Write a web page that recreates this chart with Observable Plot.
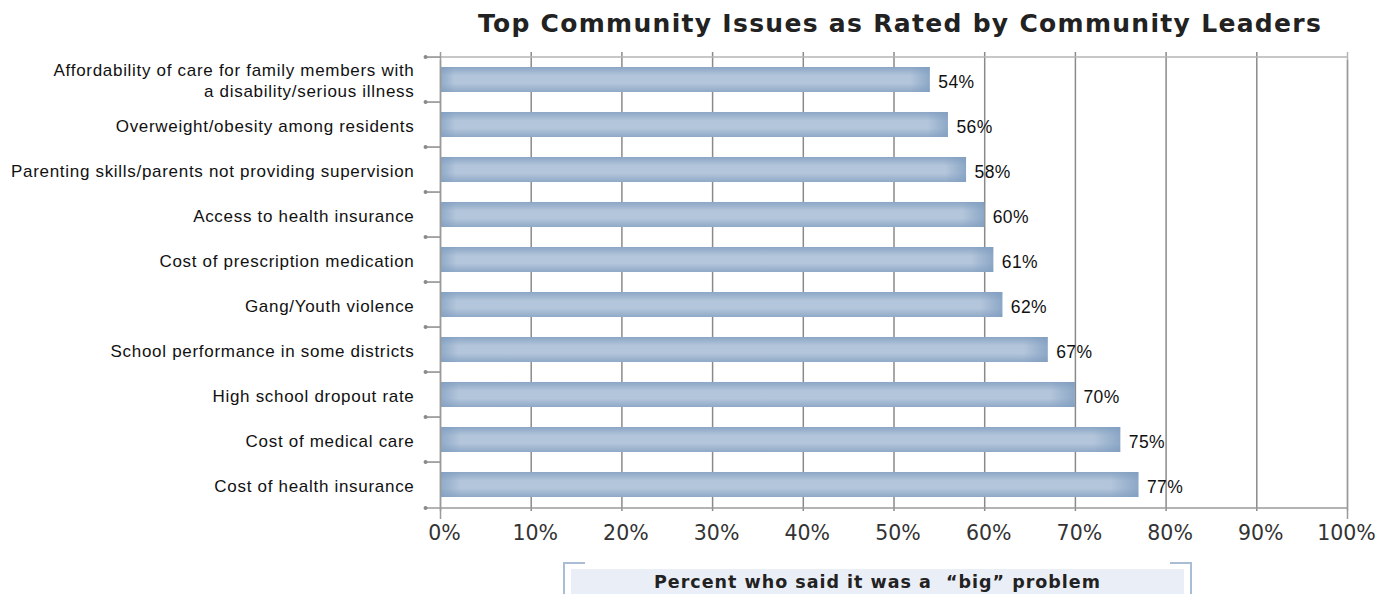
<!DOCTYPE html>
<html>
<head>
<meta charset="utf-8">
<script src="https://cdn.jsdelivr.net/npm/d3@7"></script>
<script src="https://cdn.jsdelivr.net/npm/@observablehq/plot@0.6"></script>
<style>
  body { margin: 0; background: #fff; width: 1379px; height: 594px; overflow: hidden; position: relative; font-family: "Liberation Sans", Arial, sans-serif; }
  #title { position: absolute; top: 9px; left: 421px; width: 958px; text-align: center; font-family: "DejaVu Sans", sans-serif; font-weight: bold; font-size: 25px; color: #222; letter-spacing: 1.3px; }
  #chart { position: absolute; top: 40px; left: 0; }
  #caption { position: absolute; top: 569px; left: 571px; width: 613px; height: 30px; background: #eaeef6; text-align: center; font-family: "DejaVu Sans", sans-serif; font-weight: bold; font-size: 17.5px; color: #222; line-height: 26px; letter-spacing: 1px; }
  .br { position: absolute; border-color: #a9bdd5; border-style: solid; }
  #brl { top: 562px; left: 563px; width: 20px; height: 40px; border-width: 2px 0 0 2px; }
  #brr { top: 562px; left: 1170px; width: 20px; height: 40px; border-width: 2px 2px 0 0; }
  #chart g[aria-label="y-axis tick label"] text { letter-spacing: 0.7px; }
  #chart g[aria-label="text"] text { letter-spacing: 0.4px; }
</style>
</head>
<body>
<div id="title">Top Community Issues as Rated by Community Leaders</div>
<div id="chart"></div>
<div class="br" id="brl"></div>
<div class="br" id="brr"></div>
<div id="caption">Percent who said it was a &nbsp;“big” problem</div>
<script>
const categories = [
  "Affordability of care for family members with\na disability/serious illness",
  "Overweight/obesity among residents",
  "Parenting skills/parents not providing supervision",
  "Access to health insurance",
  "Cost of prescription medication",
  "Gang/Youth violence",
  "School performance in some districts",
  "High school dropout rate",
  "Cost of medical care",
  "Cost of health insurance"
];
const values = [54, 56, 58, 60, 61, 62, 67, 70, 75, 77];
const xTicks = [0, 10, 20, 30, 40, 50, 60, 70, 80, 90, 100];

const data = categories.map((c, i) => ({cat: c, v: values[i] / 100}));

const W = 1379, H = 512, mt = 12, mb = 41, ml = 440, mr = 32;
const pInner = 0.45, pOuter = 0.225;
const step = (H - mt - mb) / (categories.length - pInner + 2 * pOuter);

const plot = Plot.plot({
  width: W, height: H,
  marginTop: mt, marginBottom: mb, marginLeft: ml, marginRight: mr,
  style: {background: "transparent", overflow: "visible"},
  x: {domain: [0, 1]},
  y: {domain: categories, paddingInner: pInner, paddingOuter: pOuter},
  marks: [
    // vertical grid
    Plot.ruleX(xTicks.slice(1, -1).map(d => d / 100), {stroke: "#8a8a8a", strokeWidth: 1.5}),
    Plot.ruleX([1], {stroke: "#b5b5b5", strokeWidth: 1.5}),
    Plot.ruleY([categories[0]], {stroke: "#b5b5b5", strokeWidth: 1.5, x1: 0, x2: 1, dy: -step / 2}),
    // bars (vertical shading + horizontal end shading)
    Plot.barX(data, {x: "v", y: "cat", fill: "url(#barGrad)"}),
    Plot.barX(data, {x: "v", y: "cat", fill: "url(#barGradH)"}),
    // left / bottom axis lines
    Plot.ruleX([0], {stroke: "#9a9a9a", strokeWidth: 1.5}),
    Plot.ruleY([categories[categories.length - 1]], {stroke: "#9a9a9a", strokeWidth: 1.5, x1: -0.0165, x2: 1, dy: step / 2}),
    // category boundary ticks with dots
    Plot.ruleY(categories, {stroke: "#8a8a8a", strokeWidth: 1.5, x1: -0.0165, x2: 0, dy: -step / 2}),
    Plot.dot(categories, {y: d => d, x: -0.0165, r: 2, fill: "#8a8a8a", dy: -step / 2}),
    Plot.dot([categories[categories.length - 1]], {y: d => d, x: -0.0165, r: 2, fill: "#8a8a8a", dy: step / 2}),
    // small ticks below axis at 0% and 100%
    Plot.tickX([0, 1], {stroke: "#9a9a9a", strokeWidth: 1.5, dy: 8}),
    // value labels
    Plot.text(data, {x: "v", y: "cat", text: d => Math.round(d.v * 100) + "%", textAnchor: "start", dx: 8, dy: 2,
      fontSize: 17.5, fill: "#111", fontFamily: "Liberation Sans, Arial, sans-serif"}),
    // axes
    Plot.axisY({tickSize: 0, tickPadding: 26, fontSize: 17, lineHeight: 1.2, fill: "#111",
      fontFamily: "Liberation Sans, Arial, sans-serif", label: null}),
    Plot.axisX(xTicks.slice(0, -1).map(d => d / 100), {tickSize: 0, tickPadding: 14, fontSize: 20.5, fill: "#333", dx: 4,
      fontFamily: "DejaVu Sans, sans-serif", tickFormat: d => Math.round(d * 100) + "%", label: null}),
    Plot.axisX([1], {tickSize: 0, tickPadding: 14, fontSize: 20.5, fill: "#333", dx: -1,
      fontFamily: "DejaVu Sans, sans-serif", tickFormat: d => Math.round(d * 100) + "%", label: null})
  ]
});

// gradient definitions for bars
const ns = "http://www.w3.org/2000/svg";
const defs = document.createElementNS(ns, "defs");
defs.innerHTML = `
  <linearGradient id="barGrad" x1="0" y1="0" x2="0" y2="1">
    <stop offset="0" stop-color="#8ba6c5"/>
    <stop offset="0.35" stop-color="#b3c5da"/>
    <stop offset="0.65" stop-color="#b4c6db"/>
    <stop offset="1" stop-color="#8fa9c7"/>
  </linearGradient>
  <linearGradient id="barGradH" x1="0" y1="0" x2="1" y2="0">
    <stop offset="0" stop-color="#7f9dc0" stop-opacity="0.7"/>
    <stop offset="0.03" stop-color="#7f9dc0" stop-opacity="0"/>
    <stop offset="0.96" stop-color="#7f9dc0" stop-opacity="0"/>
    <stop offset="1" stop-color="#7f9dc0" stop-opacity="0.75"/>
  </linearGradient>`;
plot.insertBefore(defs, plot.firstChild);
document.getElementById("chart").appendChild(plot);
</script>
</body>
</html>
